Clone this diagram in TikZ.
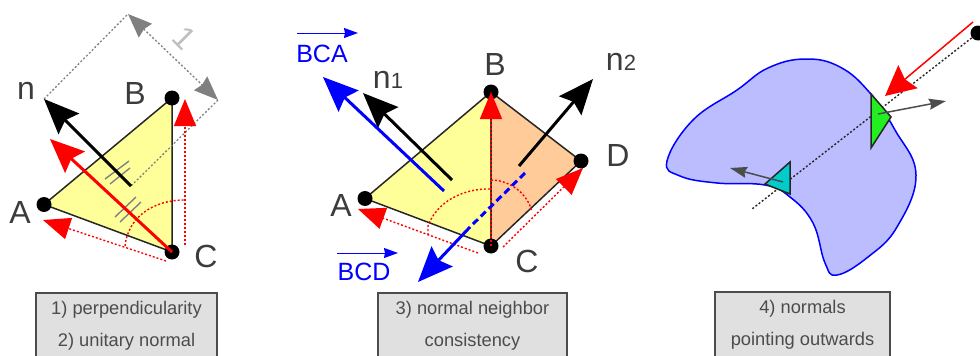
\documentclass[tikz,border=0pt]{standalone}
\usepackage{fontspec}
\setmainfont{Liberation Sans}
\usetikzlibrary{arrows.meta}
\definecolor{facecol}{HTML}{FFFF99}
\definecolor{neighcol}{HTML}{FFCC99}
\definecolor{blobcol}{HTML}{BBBDFE}
\definecolor{boxcol}{HTML}{E0E0E0}
\definecolor{txtcol}{HTML}{3C3C3C}
\definecolor{greenface}{HTML}{22EE22}
\definecolor{cyanface}{HTML}{00CCCC}
\begin{document}
\begin{tikzpicture}[
      x=1pt, y=-1pt,
      vertex/.style={circle, fill=black, inner sep=0pt, minimum size=15pt},
      face/.style={draw=black!85, line width=1.5pt},
      lab/.style={font=\fontsize{32}{32}\selectfont, text=txtcol, inner sep=0pt},
      bluelab/.style={font=\fontsize{25}{25}\selectfont, text=blue, inner sep=0pt},
      capbox/.style={draw=black!70, fill=boxcol, line width=1.5pt, align=center, inner sep=0pt,
                     font=\fontsize{18.3}{32}\selectfont, text=black!70, minimum height=66pt},
      normal/.style={black, line width=3pt, -{Stealth[length=35pt, width=29pt, inset=5pt]}},
      rednormal/.style={red, line width=3pt, -{Stealth[length=34pt, width=29pt, inset=5pt]}},
      edgevec/.style={red, dash pattern=on 2pt off 2pt, line width=1.4pt, -{Stealth[length=27pt, width=22pt, inset=0pt]}},
      bluevec/.style={blue, line width=3pt, -{Stealth[length=35pt, width=29pt, inset=5pt]}},
      overvec/.style={blue, line width=1pt, -{Stealth[length=14pt, width=10pt, inset=1pt]}},
      guide/.style={gray, dash pattern=on 2pt off 2pt, line width=1.3pt},
      span/.style={guide, {Stealth[length=24pt, width=19pt, inset=2pt]}-{Stealth[length=24pt, width=19pt, inset=2pt]}},
      tick/.style={gray, line width=1.4pt},
      arcline/.style={red, dash pattern=on 2pt off 2pt, line width=1.4pt},
      ray/.style={black!85, dash pattern=on 2pt off 2pt, line width=1.4pt},
      outward/.style={black!70, line width=1.5pt, -{Stealth[length=17pt, width=11pt, inset=2pt]}}
    ]
    \path[use as bounding box, clip] (0,0) rectangle (980,356);

    % first panel
    \coordinate (a1) at (44,204.5);
    \coordinate (b1) at (172,98);
    \coordinate (c1) at (172,252);
    \coordinate (ntail) at (131,186);
    \coordinate (ntip) at (44,99);
    \coordinate (top) at (128,14);
    \coordinate (corner) at (218,100);
    \coordinate (unit) at (50,139);
    \coordinate (ca1) at (166,261);
    \coordinate (aend1) at (43,220);
    \coordinate (cb1) at (185,245);
    \coordinate (bend1) at (185,99);

    \draw[face, fill=facecol] (a1) -- (b1) -- (c1) -- cycle;
    \draw[guide] (ntip) -- (top);
    \draw[guide] (corner) -- (ntail);
    \draw[span] (top) -- (corner);
    \draw[tick] (105,179) -- (129,161);
    \draw[tick] (110,184) -- (130,168);
    \draw[tick] (115,217) -- (136,197);
    \draw[tick] (120,222) -- (141,202);
    \draw[normal] (ntail) -- (ntip);
    \draw[edgevec] (ca1) -- (aend1);
    \draw[edgevec] (cb1) -- (bend1);
    \draw[arcline] (125,246) .. controls (128,218) and (152,200) .. (185,200);
    \node[vertex] (va1) at (a1) {};
    \node[vertex] (vb1) at (b1) {};
    \node[vertex] (vc1) at (c1) {};
    \draw[rednormal] (c1) -- (unit);
    \node[lab] (ln) at (26,91) {n};
    \node[lab] (la1) at (20,212) {A};
    \node[lab] (lb1) at (135,93) {B};
    \node[lab] (lc1) at (206,256) {C};
    \node[lab, text=black!25, rotate=-45] (lone) at (185,38) {1};
    \node[capbox, minimum width=181pt] (cap1) at (126.5,326) {1) perpendicularity\\2) unitary normal};

    % second panel
    \coordinate (a2) at (365,198.5);
    \coordinate (b2) at (491,92);
    \coordinate (c2) at (491,246);
    \coordinate (d2) at (581,161);
    \coordinate (n1tail) at (452,180);
    \coordinate (n1tip) at (363,93);
    \coordinate (n2tail) at (519,166);
    \coordinate (n2tip) at (593,79);
    \coordinate (bcatail) at (444,191);
    \coordinate (bcatip) at (323,77);
    \coordinate (bcdtail) at (525,173);
    \coordinate (bcdmid) at (470,227);
    \coordinate (bcdtip) at (418,282);
    \coordinate (ca2) at (478,253);
    \coordinate (aend2) at (358,209);
    \coordinate (cd2) at (503,247);
    \coordinate (dend2) at (583,168);

    \draw[face, fill=facecol] (a2) -- (b2) -- (c2) -- cycle;
    \draw[face, fill=neighcol] (b2) -- (d2) -- (c2) -- cycle;
    \draw[arcline] (428,235) -- (428,226) .. controls (436,203) and (462,188) .. (491,189);
    \draw[arcline] (491,180) .. controls (510,180) and (528,194) .. (532,212);
    \draw[edgevec] (ca2) -- (aend2);
    \draw[edgevec] (cd2) -- (dend2);
    \node[vertex] (va2) at (a2) {};
    \node[vertex] (vb2) at (b2) {};
    \node[vertex] (vc2) at (c2) {};
    \node[vertex] (vd2) at (d2) {};
    \draw[edgevec] (c2) -- (b2);
    \draw[normal] (n1tail) -- (n1tip);
    \draw[normal] (n2tail) -- (n2tip);
    \draw[bluevec] (bcatail) -- (bcatip);
    \draw[blue, line width=3pt, dash pattern=on 7pt off 4pt] (bcdtail) -- (bcdmid);
    \draw[bluevec] (bcdmid) -- (bcdtip);
    \node[lab] (la2) at (341,205) {A};
    \node[lab] (lb2) at (495,64) {B};
    \node[lab] (lc2) at (527,261) {C};
    \node[lab] (ld2) at (618,155) {D};
    \node[lab] (ln1) at (388,80) {n{\fontsize{22}{22}\selectfont 1}};
    \node[lab] (ln2) at (621,62) {n{\fontsize{22}{22}\selectfont 2}};
    \node[bluelab] (lbca) at (322,54) {BCA};
    \node[bluelab] (lbcd) at (364,272) {BCD};
    \coordinate (ov1a) at (297,33);
    \coordinate (ov1b) at (358,33);
    \coordinate (ov2a) at (337,253);
    \coordinate (ov2b) at (398,253);
    \draw[overvec] (ov1a) -- (ov1b);
    \draw[overvec] (ov2a) -- (ov2b);
    \node[capbox, minimum width=189pt] (cap3) at (472.5,326) {3) normal neighbor\\consistency};

    % third panel
    \draw[blue, line width=1.5pt, fill=blobcol] plot[smooth cycle, tension=.7] coordinates {
        (737,90) (768,68) (805,59) (840,67) (870,93) (895,130) (916,175) (897,227)
        (868,257) (837,275) (825,263) (813,223) (790,197) (765,185) (717,183) (680,176) (667,161) (693,120)};
    \coordinate (eye) at (978,33);
    \coordinate (rayend) at (752,209);
    \coordinate (redtail) at (973,22);
    \coordinate (redtip) at (885,96);
    \coordinate (gtail) at (878,114);
    \coordinate (gtip) at (946,101);
    \coordinate (ctail) at (783,182);
    \coordinate (ctip) at (730,168);
    \draw[ray] (eye) -- (rayend);
    \draw[face, fill=greenface] (871,94) -- (891,117) -- (871,148) -- cycle;
    \draw[face, fill=cyanface] (790,162) -- (765,184) -- (790,194) -- cycle;
    \draw[outward] (gtail) -- (gtip);
    \draw[outward] (ctail) -- (ctip);
    \draw[red, line width=1.5pt, -{Stealth[length=30pt, width=30pt, inset=4pt]}] (redtail) -- (redtip);
    \node[vertex] (veye) at (eye) {};
    \node[capbox, minimum width=175pt] (cap4) at (802.5,325) {4) normals\\pointing outwards};
  \end{tikzpicture}
\end{document}
